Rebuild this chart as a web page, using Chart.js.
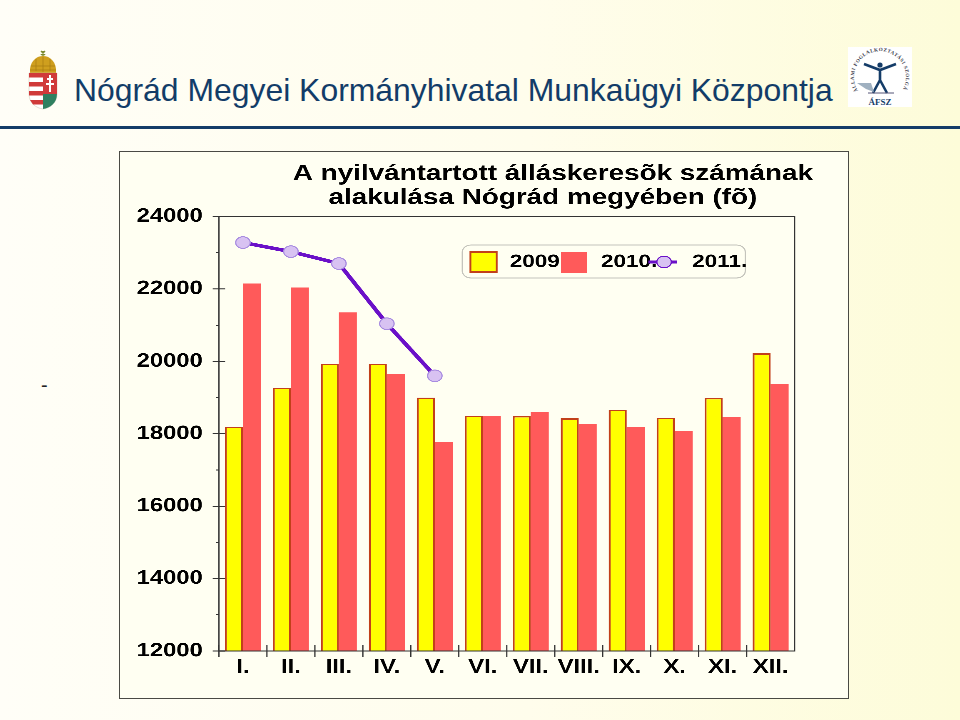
<!DOCTYPE html>
<html lang="hu">
<head>
<meta charset="utf-8">
<title>Nógrád Megyei Kormányhivatal Munkaügyi Központja</title>
<script src="https://cdn.jsdelivr.net/npm/chart.js@4"></script>
<style>
  html, body { margin: 0; padding: 0; }
  body {
    position: relative; width: 960px; height: 720px; overflow: hidden;
    background: linear-gradient(90deg, #fffef7 0%, #fffdec 55%, #fdfcd9 100%);
    font-family: "Liberation Sans", Arial, sans-serif;
  }
  #heading { position: absolute; left: 74px; top: 71px; font-size: 31.9px; line-height: 38px; color: #123c68; white-space: nowrap; }
  #rule { position: absolute; left: 0; top: 126px; width: 960px; height: 3px; background: #143c68; }
  #dash { position: absolute; left: 41px; top: 374px; font-size: 20px; color: #222; }
  #emblem { position: absolute; left: 27px; top: 48px; }
  #afsz { position: absolute; left: 848px; top: 47px; }
  #panel { position: absolute; left: 119px; top: 151px; width: 728px; height: 546px; border: 1.5px solid #4a4a44; background: #fffff2; overflow: hidden; }
  /* the original chart is stretched sideways, so the canvas is too */
  #wrap { position: absolute; left: 0; top: 0; width: 582.4px; height: 546px; transform: scaleX(1.25); transform-origin: 0 0; }
</style>
</head>
<body>
<svg id="emblem" width="32" height="64" viewBox="0 0 32 64">
  <path d="M14 3l4 4M18 3l-4 4M16 3v6" stroke="#7c8a30" stroke-width="1.5"/>
  <path d="M3 25C2 14 9 8 16 8s14 6 13 17z" fill="#cf9f1e"/>
  <path d="M4 18h24M3 22h26M16 9v15M9 11v12M23 11v12" stroke="#a87c12" stroke-width=".7" fill="none"/>
  <path d="M2 25h28v21c0 9-7 14-14 15C9 60 2 55 2 46z" fill="#fff" stroke="#c8c0b0" stroke-width=".5"/>
  <path d="M16 25h14v21H16z" fill="#d03a3a"/>
  <path d="M2 25h14v4.5H2zM2 34h14v4.5H2zM2 43h14v4.5H2zM3 52h13v4.5H6z" fill="#d03a3a"/>
  <path d="M16 46h14c0 9-7 14-14 15z" fill="#2f8060"/>
  <path d="M23 27v17M20 31h6M19 36h8" stroke="#fff" stroke-width="2"/>
</svg>
<div id="heading">Nógrád Megyei Kormányhivatal Munkaügyi Központja</div>
<div id="rule"></div>
<svg id="afsz" width="64" height="60" viewBox="0 0 64 60">
  <rect width="64" height="60" fill="#fff"/>
  <defs><path id="arc" d="M10 44A26 26 0 1 1 54 44"/></defs>
  <text font-family="Liberation Serif" font-size="5" font-weight="bold" fill="#334" letter-spacing=".5"><textPath href="#arc">ÁLLAMI FOGLALKOZTATÁSI SZOLGÁLAT</textPath></text>
  <path d="M16 17l16 6 16-6M32 23v10M32 33l-7 13M32 33l7 13" stroke="#143c68" stroke-width="2.6" fill="none"/>
  <circle cx="32" cy="18" r="2.6" fill="#143c68"/>
  <path d="M9 36h14l3 9-8-3z" fill="#9fb0c0"/>
  <path d="M20 46h26" stroke="#557" stroke-width="1"/>
  <text x="32" y="57.5" text-anchor="middle" font-family="Liberation Serif" font-size="9" font-weight="bold" fill="#143c68">ÁFSZ</text>
</svg>
<div id="dash">-</div>
<div id="panel"><div id="wrap"><canvas id="chart"></canvas></div></div>
<script>
const categories = ["I.", "II.", "III.", "IV.", "V.", "VI.", "VII.", "VIII.", "IX.", "X.", "XI.", "XII."];
const values2009 = [18190, 19270, 19930, 19930, 19000, 18500, 18490, 18430, 18660, 18440, 18990, 20220];
const values2010 = [22150, 22040, 21350, 19660, 17780, 18480, 18610, 18260, 18190, 18080, 18470, 19370];
const values2011 = [23280, 23030, 22700, 21040, 19600];
const seriesLabels = ["2009.", "2010.", "2011."];
const titleLines = ["A nyilvántartott álláskeresõk számának", "alakulása Nógrád megyében (fõ)"];

const YELLOW = "#ffff00";
const RED = "#ff5a5a";
const EDGE = "#c2401a";
const PURPLE = "#6a10c8";
const MARKER = "#d8c2f2";
const MARKER_EDGE = "#a88ce0";
const AXIS = "#333333";
const FONT = '"Liberation Sans", Arial, sans-serif';

// axis frame and the ticks that cross it
const framePlugin = {
  id: "frame",
  afterDraw(chart) {
    const { ctx, chartArea: a, scales } = chart;
    ctx.save();
    ctx.strokeStyle = AXIS;
    ctx.lineWidth = 1;
    ctx.strokeRect(a.left, a.top, a.right - a.left, a.bottom - a.top);
    ctx.beginPath();
    scales.y.ticks.forEach((t) => {
      const y = scales.y.getPixelForValue(t.value);
      const major = t.value % 2000 === 0;
      ctx.moveTo(a.left - (major ? 5 : 2.5), y);
      ctx.lineTo(a.left + (major ? 5 : 0), y);
    });
    const step = scales.x.getPixelForValue(1) - scales.x.getPixelForValue(0);
    categories.forEach((c, i) => {
      const x = scales.x.getPixelForValue(i) - step / 2;
      ctx.moveTo(x, a.bottom - 6);
      ctx.lineTo(x, a.bottom + 6);
    });
    ctx.stroke();
    ctx.restore();
  },
};

// title sits off-centre and the legend items overlap in the original, so both are drawn here
const titleLegendPlugin = {
  id: "titleLegend",
  afterDraw(chart) {
    const { ctx } = chart;
    ctx.save();
    ctx.fillStyle = "#000";
    ctx.textAlign = "center";
    ctx.textBaseline = "middle";
    ctx.font = "bold 22.3px " + FONT;
    ctx.fillText(titleLines[0], 346.5, 22);
    ctx.fillText(titleLines[1], 338.5, 46);

    ctx.strokeStyle = "#c4c4bc";
    ctx.lineWidth = 1;
    ctx.beginPath();
    ctx.roundRect(274, 93, 226.5, 33, 7);
    ctx.stroke();

    ctx.font = "bold 18px " + FONT;
    ctx.textAlign = "left";
    ctx.fillStyle = "#000";
    ctx.fillText(seriesLabels[0], 312, 110);
    ctx.fillText(seriesLabels[1], 385, 110);
    ctx.fillText(seriesLabels[2], 458, 110);

    ctx.fillStyle = YELLOW;
    ctx.strokeStyle = EDGE;
    ctx.lineWidth = 1.5;
    ctx.fillRect(280.5, 100, 21, 20);
    ctx.strokeRect(280.5, 100, 21, 20);
    ctx.fillStyle = RED;
    ctx.fillRect(353, 100, 21, 21);

    ctx.strokeStyle = PURPLE;
    ctx.lineWidth = 3;
    ctx.beginPath();
    ctx.moveTo(423, 110);
    ctx.lineTo(446, 110);
    ctx.stroke();
    ctx.fillStyle = MARKER;
    ctx.lineWidth = 1;
    ctx.beginPath();
    ctx.arc(435.5, 110, 5.8, 0, Math.PI * 2);
    ctx.fill();
    ctx.stroke();
    ctx.restore();
  },
};

new Chart(document.getElementById("chart"), {
  data: {
    labels: categories,
    datasets: [
      { type: "bar", label: seriesLabels[0], data: values2009, backgroundColor: YELLOW, borderColor: EDGE, borderWidth: 1.5, order: 2 },
      { type: "bar", label: seriesLabels[1], data: values2010, backgroundColor: RED, order: 3 },
      {
        type: "line", label: seriesLabels[2], data: values2011, borderColor: PURPLE, borderWidth: 3.5,
        pointBackgroundColor: MARKER, pointBorderColor: MARKER_EDGE, pointBorderWidth: 1, pointRadius: 5.8,
        tension: 0, fill: false, order: 1,
      },
    ],
  },
  options: {
    responsive: true,
    maintainAspectRatio: false,
    devicePixelRatio: 3,
    animation: false,
    categoryPercentage: 0.75,
    barPercentage: 1,
    layout: { padding: { top: 64.5, right: 42.4, left: 0, bottom: 0 } },
    scales: {
      x: {
        afterFit: (s) => { s.height = 47; },
        grid: { display: false },
        border: { display: false },
        ticks: { color: "#000", font: { family: FONT, size: 19, weight: "bold" }, padding: -3, autoSkip: false, maxRotation: 0 },
      },
      y: {
        min: 12000,
        max: 24000,
        afterFit: (s) => { s.width = 79.2; },
        grid: { display: false },
        border: { display: false },
        ticks: {
          stepSize: 1000,
          autoSkip: false,
          padding: 5,
          color: "#000",
          font: { family: FONT, size: 19, weight: "bold" },
          callback: (v) => (v % 2000 === 0 ? String(v) : ""),
        },
      },
    },
    plugins: { legend: { display: false }, title: { display: false }, tooltip: { enabled: false } },
  },
  plugins: [framePlugin, titleLegendPlugin],
});
</script>
</body>
</html>
